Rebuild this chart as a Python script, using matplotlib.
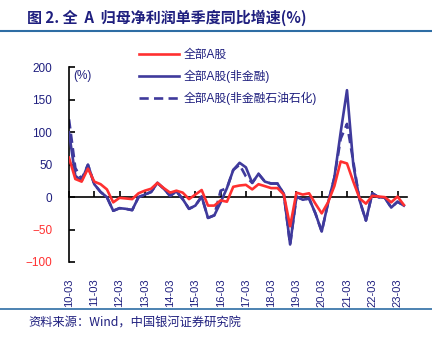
import matplotlib
matplotlib.use("Agg")
import matplotlib.pyplot as plt
from matplotlib.lines import Line2D

plt.rcParams['font.family'] = ['Liberation Sans', 'Noto Sans CJK SC', 'DejaVu Sans']

# quarterly data, 10-03 .. 23-06
tick_labels = ['10-03', '11-03', '12-03', '13-03', '14-03', '15-03', '16-03',
               '17-03', '18-03', '19-03', '20-03', '21-03', '22-03', '23-03']

all_a = [61, 28, 24, 44, 24, 20, 12, -8, -1, -2,
         -3, 6, 10, 13, 22, 14, 7, 10, 7, -3,
         4, 11, -13, -13, -5, -7, 16, 18, 19, 12,
         20, 17, 14, 14, 4, -45, 7, 4, 6, -10,
         -25, -8, 17, 55, 52, 24, -2, -10, 2, 1,
         0, -8, 1, -12]

ex_fin = [100, 33, 25, 50, 20, 8, 0, -21, -17, -18,
          -20, 0, 4, 8, 22, 13, 2, 9, -3, -18,
          -13, 1, -32, -28, -8, 14, 42, 53, 46, 22,
          36, 24, 21, 21, 5, -73, 1, -4, -2, -25,
          -53, -9, 30, 100, 165, 50, -5, -36, 6, 0,
          -1, -16, -7, -13]

ex_fin_oil = [120, 45, 28, 50, 20, 8, 0, -21, -17, -18,
              -20, 0, 4, 8, 22, 13, 2, 9, -3, -18,
              -13, 1, -32, -28, 10, 14, 42, 50, 32, 22,
              36, 24, 21, 21, 5, -73, 1, -4, -2, -25,
              -53, -9, 30, 90, 113, 55, -5, -36, 6, 0,
              -1, -16, -7, -13]

names = ['全部A股', '全部A股(非金融)', '全部A股(非金融石油石化)']

navy = '#1f1f7f'
red = '#ff3030'
blue = '#3f3a9c'

W, H = 432, 345
fig = plt.figure(figsize=(W / 100, H / 100), dpi=100)
ax = fig.add_axes([69 / W, 1 - 262 / H, (407 - 69) / W, (262 - 67.5) / H])

x = list(range(len(all_a)))
ax.plot(x, all_a, color=red, lw=1.9, label=names[0], zorder=4)
ax.plot(x, ex_fin, color=blue, lw=1.9, label=names[1], zorder=3)
ax.plot(x, ex_fin_oil, color=blue, lw=1.9, ls=(0, (3.5, 2)), label=names[2], zorder=2)

ax.set_xlim(0, 53.5)
ax.set_ylim(-100, 200)

for s in ['top', 'right', 'bottom']:
    ax.spines[s].set_visible(False)
ax.spines['left'].set_linewidth(1.2)

ax.set_yticks([-100, -50, 0, 50, 100, 150, 200])
ax.tick_params(axis='y', direction='in', length=4, width=1.2, pad=12, labelsize=8.5)
for lab, v in zip(ax.get_yticklabels(), ax.get_yticks()):
    lab.set_color(red if v < 0 else navy)

ax.set_xticks(range(0, 53, 4))
ax.set_xticklabels(tick_labels, rotation=90, color=navy, fontsize=8)
ax.tick_params(axis='x', length=0, pad=12)

# zero line carries the year ticks
zero = ax.secondary_xaxis(1 / 3)
zero.set_xticks(range(0, 53, 4))
zero.set_xticklabels([])
zero.tick_params(direction='in', length=4, width=1.2)
zero.spines['bottom'].set_linewidth(1.2)

ax.text(0.012, 0.985, '(%)', transform=ax.transAxes, color=navy,
        fontsize=8.5, va='top', ha='left')

ax.legend(loc='upper left', bbox_to_anchor=(139 / W, 1 - 49 / H),
          bbox_transform=fig.transFigure, frameon=False, borderpad=0,
          borderaxespad=0, handlelength=3.4, handletextpad=0.4,
          labelspacing=0.75, fontsize=8.5, labelcolor=navy)

fig.text(27 / W, 1 - 18 / H, '图 2. 全  A  归母净利润单季度同比增速(%)',
         color=navy, fontsize=10.8, fontweight='bold', va='center', ha='left',
         family=['Noto Sans CJK SC', 'DejaVu Sans'])
fig.add_artist(Line2D([0, 1], [1 - 31 / H] * 2, color='#2e6da4', lw=1.5,
                      transform=fig.transFigure))
fig.add_artist(Line2D([0, 1], [1 - 308.5 / H] * 2, color='#2e6da4', lw=1.2,
                      transform=fig.transFigure))
fig.text(28 / W, 1 - 323 / H, '资料来源：Wind，中国银河证券研究院',
         color=navy, fontsize=8.8, va='center', ha='left',
         family=['Noto Sans CJK SC', 'DejaVu Sans'])

fig.savefig('out.png', dpi=100)
